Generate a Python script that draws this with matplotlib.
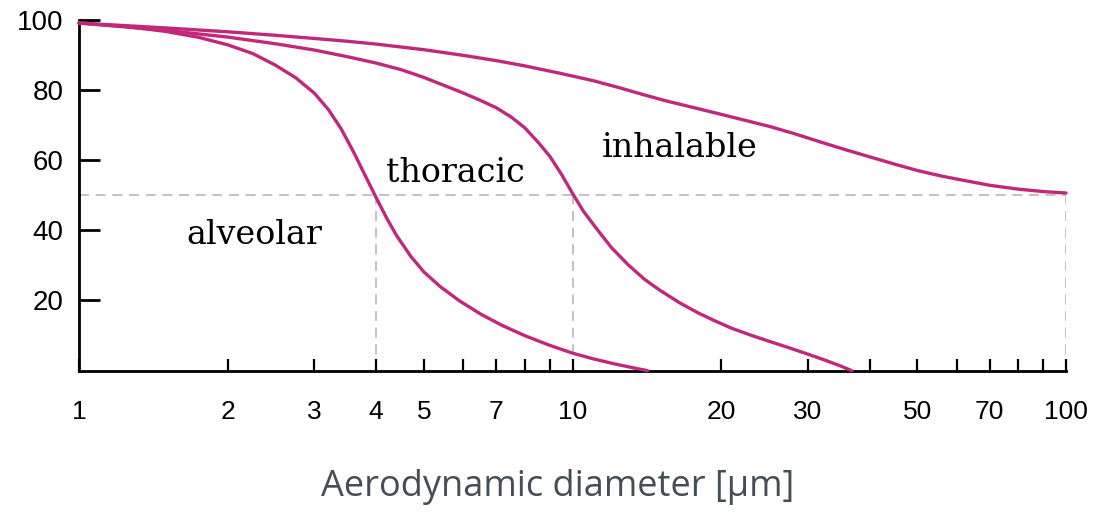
import matplotlib.pyplot as plt

# values (diameter in um, percent)
alv_d = [1.0, 1.25, 1.5, 1.75, 2.0, 2.25, 2.5, 2.75, 3.0, 3.2, 3.4, 3.6, 3.8, 4.0, 4.2, 4.4,
         4.7, 5.0, 5.4, 5.9, 6.5, 7.2, 8.0, 9.0, 10.0, 11.0, 12.2, 13.2, 14.2]
alv_v = [99.0, 98.0, 96.6, 94.9, 92.8, 90.3, 87.0, 83.4, 79.0, 74.4, 68.8, 62.3, 55.6, 49.3, 43.5, 38.5,
         32.6, 28.1, 23.9, 19.9, 16.2, 12.9, 10.0, 7.2, 5.0, 3.4, 1.9, 0.9, 0.0]

tho_d = [1.0, 1.5, 2.0, 2.5, 3.0, 3.5, 4.0, 4.5, 5.0, 5.5, 6.0, 6.5, 7.0, 7.5, 8.0, 8.5, 9.0, 9.5,
         10.0, 10.5, 11.0, 11.5, 12.0, 13.0, 14.0, 15.0, 16.5, 18.0, 19.5, 21.0, 23.0, 25.0, 27.5,
         30.0, 32.5, 35.0, 36.8]
tho_v = [99.0, 96.9, 95.0, 93.1, 91.3, 89.4, 87.6, 85.7, 83.5, 81.2, 79.1, 77.0, 74.9, 72.3, 69.2, 65.2, 61.0, 55.9,
         50.5, 45.6, 41.8, 38.3, 35.0, 30.0, 26.0, 23.0, 19.3, 16.4, 14.1, 12.1, 10.1, 8.4, 6.5,
         4.7, 3.0, 1.3, 0.0]

inh_d = [1.0, 1.5, 2.0, 2.5, 3.0, 3.5, 4.0, 5.0, 6.0, 7.0, 8.0, 9.5, 11.0, 12.5, 14.0, 15.5, 17.5,
         20.0, 22.5, 25.0, 28.0, 32.0, 36.0, 40.0, 45.0, 50.0, 56.0, 62.0, 70.0, 80.0, 90.0, 100.0]
inh_v = [99.0, 97.6, 96.5, 95.5, 94.6, 93.8, 93.0, 91.4, 89.8, 88.3, 86.8, 84.6, 82.6, 80.5, 78.5, 76.8, 75.0,
         73.0, 71.2, 69.6, 67.6, 65.0, 62.8, 60.9, 58.8, 57.0, 55.4, 54.2, 52.8, 51.7, 51.0, 50.6]

cut_d = [4, 10, 100]
cut_level = 50

x_ticks = [2, 3, 4, 5, 6, 7, 8, 9, 10, 20, 30, 40, 50, 60, 70, 80, 90, 100]
x_labels = [1, 2, 3, 4, 5, 7, 10, 20, 30, 50, 70, 100]
y_ticks = [20, 40, 60, 80, 100]

curve_color = '#c2287a'
dash_color = '#b8b8b8'

fig = plt.figure(figsize=(10.97, 5.14), dpi=100)
ax = fig.add_axes([79 / 1097, 1 - 370.7 / 514, (1066 - 79) / 1097, (370.7 - 19.5) / 514])

# dashed 50 % guides
ax.plot([1, 100], [cut_level, cut_level], color=dash_color, lw=1.2, ls=(0, (6, 4)), zorder=1)
for d in cut_d:
    ax.plot([d, d], [0, cut_level], color=dash_color, lw=1.2, ls=(0, (6, 4)), zorder=1)

for d, v in [(alv_d, alv_v), (tho_d, tho_v), (inh_d, inh_v)]:
    ax.plot(d, v, color=curve_color, lw=2.4, solid_capstyle='round', solid_joinstyle='round',
            clip_on=False, zorder=3)

ax.set_xscale('log')
ax.set_xlim(1, 100)
ax.set_ylim(0, 100)

ax.set_xticks([1] + x_ticks)
ax.set_xticklabels([str(t) if t in x_labels else '' for t in [1] + x_ticks])
ax.xaxis.set_minor_locator(plt.NullLocator())
ax.set_yticks(y_ticks)
ax.set_yticklabels([str(t) for t in y_ticks])

for side in ['top', 'right']:
    ax.spines[side].set_visible(False)
for side in ['left', 'bottom']:
    ax.spines[side].set_linewidth(2.0)
    ax.spines[side].set_color('black')

ax.tick_params(axis='x', direction='in', length=8.5, width=1.6, pad=21,
               labelsize=19, labelfontfamily='Liberation Sans')
ax.tick_params(axis='y', direction='in', length=15, width=2.0, pad=11,
               labelsize=20, labelfontfamily='Liberation Sans')

ax.text(2.27, 36.0, 'alveolar', family='DejaVu Serif', fontsize=24, ha='center', va='baseline')
ax.text(5.78, 53.8, 'thoracic', family='DejaVu Serif', fontsize=24, ha='center', va='baseline')
ax.text(16.5, 60.9, 'inhalable', family='DejaVu Serif', fontsize=24, ha='center', va='baseline')

fig.text(558 / 1097, 1 - 487 / 514, 'Aerodynamic diameter [\u03bcm]', family='Open Sans',
         fontsize=26, color='#454d55', ha='center', va='center')

fig.savefig('out.png', dpi=100, facecolor='white')
